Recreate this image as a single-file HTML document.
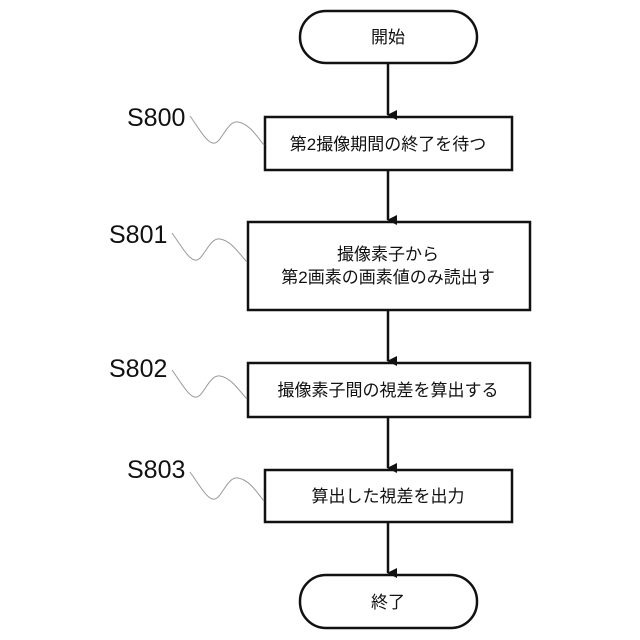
<!DOCTYPE html>
<html><head><meta charset="utf-8"><style>
body{margin:0;background:#fff}
svg{display:block}
text{font-family:"Liberation Sans","Noto Sans CJK JP",sans-serif;fill:#111}
</style></head><body>
<svg width="640" height="640" viewBox="0 0 640 640">
<defs><marker id="a" markerWidth="10" markerHeight="10" refX="5" refY="9" orient="auto" markerUnits="userSpaceOnUse" viewBox="0 0 10 10"><path d="M0,0 L10,0 L5,10 z" fill="#111"/></marker></defs>
<g stroke="#111" stroke-width="2.5" fill="none">
<rect x="300" y="11" width="177" height="52" rx="26"/>
<rect x="265" y="117" width="247" height="53"/>
<rect x="248" y="222" width="282" height="88"/>
<rect x="248" y="363" width="282" height="54"/>
<rect x="265" y="470" width="247" height="52"/>
<rect x="300" y="575" width="177" height="53" rx="26"/>
</g>
<g stroke="#111" stroke-width="2.5">
<line x1="388" y1="63" x2="388" y2="115" marker-end="url(#a)"/>
<line x1="388" y1="170" x2="388" y2="220" marker-end="url(#a)"/>
<line x1="388" y1="310" x2="388" y2="361" marker-end="url(#a)"/>
<line x1="388" y1="417" x2="388" y2="468" marker-end="url(#a)"/>
<line x1="388" y1="522" x2="388" y2="573" marker-end="url(#a)"/>
</g>
<g stroke="#999" stroke-width="1" fill="none">
<path d="M190,116 C200,130 208,145 215,143 C222,141 228,120 238,122 C250,124 258,138 264,145"/>
<path d="M172,233 C182,247 190,262 197,260 C204,258 210,237 220,239 C232,241 240,255 247,262"/>
<path d="M172,370 C182,384 190,399 197,397 C204,395 210,374 220,376 C232,378 240,392 247,399"/>
<path d="M190,472 C200,486 208,501 215,499 C222,497 228,476 238,478 C250,480 258,494 264,501"/>
</g>
<g font-size="17" text-anchor="middle">
<text x="388" y="43">開始</text>
<text x="388" y="150">第2撮像期間の終了を待つ</text>
<text x="388" y="260">撮像素子から</text>
<text x="388" y="283">第2画素の画素値のみ読出す</text>
<text x="388" y="396">撮像素子間の視差を算出する</text>
<text x="388" y="502">算出した視差を出力</text>
<text x="388" y="608">終了</text>
</g>
<g font-size="25">
<text x="127" y="126">S800</text>
<text x="109" y="243">S801</text>
<text x="109" y="377">S802</text>
<text x="127" y="478">S803</text>
</g>
</svg>
</body></html>
